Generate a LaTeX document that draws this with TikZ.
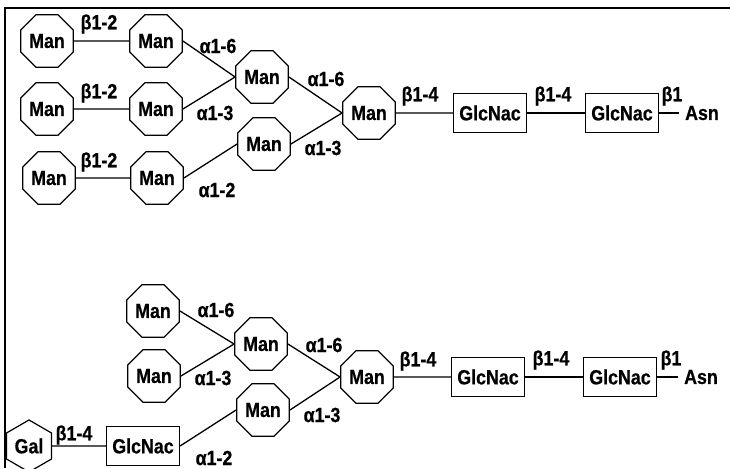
\documentclass[tikz,border=0pt]{standalone}
\usepackage{fontspec}
\setmainfont{Liberation Sans}[FakeStretch=0.87,BoldFeatures={FakeBold=0.6}]
\usetikzlibrary{shapes.geometric}
\tikzset{
  every node/.style={font=\fontsize{20.5}{22}\selectfont\bfseries},
  man/.style={draw, regular polygon, regular polygon sides=8, minimum size=57pt, inner sep=0pt, line width=1.2pt},
  gal/.style={draw, regular polygon, regular polygon sides=6, shape border rotate=30, minimum size=52pt, inner sep=0pt, line width=1.2pt},
  glc/.style={draw, rectangle, minimum width=73pt, minimum height=39pt, inner sep=0pt, line width=1.2pt},
  lbl/.style={inner sep=0pt},
  asn/.style={inner sep=6pt},
  bond/.style={line width=1.3pt},
  frame/.style={line width=1.8pt}
}
\begin{document}
\begin{tikzpicture}[x=1pt,y=-1pt]
\useasboundingbox (0,0) rectangle (730,468);
% frame (top and left)
\coordinate (fbl) at (5,468);
\coordinate (ftl) at (5,8);
\coordinate (ftr) at (730,8);
\draw[frame] (fbl) -- (ftl) -- (ftr);

% ===== top structure =====
\node[man] (A1) at (47,41) {Man};
\node[man] (B1) at (156,41) {Man};
\node[man] (A2) at (47,109) {Man};
\node[man] (B2) at (156,109) {Man};
\node[man] (A3) at (49,178) {Man};
\node[man] (B3) at (157,178) {Man};
\node[man] (U2a) at (262,77) {Man};
\node[man] (U2b) at (264,144) {Man};
\node[man] (U3) at (369,113) {Man};
\node[glc] (UG1) at (490,113) {GlcNac};
\node[glc] (UG2) at (622,113) {GlcNac};
\node[asn] (UAsn) at (702,113) {Asn};

\node[lbl] (tl1) at (99,24) {β1-2};
\node[lbl] (tl2) at (99,93) {β1-2};
\node[lbl] (tl3) at (99,162) {β1-2};
\node[lbl] (tl4) at (218,46) {α1-6};
\node[lbl] (tl5) at (215,113) {α1-3};
\node[lbl] (tl6) at (217,190) {α1-2};
\node[lbl] (tl7) at (326,79) {α1-6};
\node[lbl] (tl8) at (323,148) {α1-3};
\node[lbl] (tl9) at (420,96) {β1-4};
\node[lbl] (tl10) at (553,96) {β1-4};
\node[lbl] (tl11) at (672,96) {β1};

\draw[bond] (A1) -- (B1);
\draw[bond] (A2) -- (B2);
\draw[bond] (A3) -- (B3);
\draw[bond] (B1.east) -- (U2a.west);
\draw[bond] (B2.east) -- (U2a.west);
\draw[bond] (B3.east) -- (U2b.west);
\draw[bond] (U2a.east) -- (U3.west);
\draw[bond] (U2b.east) -- (U3.west);
\draw[bond] (U3) -- (UG1);
\draw[bond] (UG1) -- (UG2);
\draw[bond] (UG2) -- (UAsn);

% ===== bottom structure =====
\node[man] (C1) at (153,311) {Man};
\node[man] (C2) at (154,376) {Man};
\node[gal] (Gal) at (29,446) {Gal};
\node[glc] (BG0) at (143,446) {GlcNac};
\node[man] (L2c) at (261,344) {Man};
\node[man] (L2d) at (263,410) {Man};
\node[man] (L3) at (367,377) {Man};
\node[glc] (BG1) at (488,377) {GlcNac};
\node[glc] (BG2) at (620,377) {GlcNac};
\node[asn] (BAsn) at (701,377) {Asn};

\node[lbl] (bl1) at (216,310) {α1-6};
\node[lbl] (bl2) at (213,378) {α1-3};
\node[lbl] (bl3) at (74,435) {β1-4};
\node[lbl] (bl4) at (214,458) {α1-2};
\node[lbl] (bl5) at (324,345) {α1-6};
\node[lbl] (bl6) at (322,415) {α1-3};
\node[lbl] (bl7) at (418,361) {β1-4};
\node[lbl] (bl8) at (551,360) {β1-4};
\node[lbl] (bl9) at (671,360) {β1};

\draw[bond] (Gal) -- (BG0);
\draw[bond] (C1.east) -- (L2c.west);
\draw[bond] (C2.east) -- (L2c.west);
\draw[bond] (BG0.east) -- (L2d.west);
\draw[bond] (L2c.east) -- (L3.west);
\draw[bond] (L2d.east) -- (L3.west);
\draw[bond] (L3) -- (BG1);
\draw[bond] (BG1) -- (BG2);
\draw[bond] (BG2) -- (BAsn);
\end{tikzpicture}
\end{document}
